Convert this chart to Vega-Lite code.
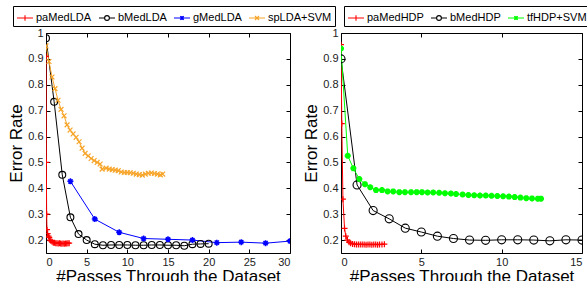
{
  "$schema": "https://vega.github.io/schema/vega-lite/v6.json",
  "padding": {"left": 7, "top": 5, "right": 0, "bottom": 0},
  "spacing": 51,
  "bounds": "flush",
  "resolve": {"scale": {"color": "independent"}, "legend": {"color": "independent"}},
  "config": {
    "font": "Liberation Sans",
    "view": {"stroke": null},
    "axis": {"grid": false, "domainColor": "black", "tickColor": "black", "labelColor": "#222", "labelFontSize": 11, "labelFont": "Liberation Sans", "titleFont": "Liberation Sans", "titleFontSize": 17, "titleFontWeight": "normal", "titleColor": "black", "tickSize": -4, "labelPadding": 7},
    "legend": {"labelFont": "Liberation Sans", "labelFontSize": 11, "labelColor": "black", "symbolSize": 256, "strokeColor": "black", "fillColor": "white", "padding": 3, "columnPadding": 4, "labelOffset": 2, "symbolStrokeWidth": 1.1, "symbolOpacity": 1, "gridAlign": "none"}
  },
  "datasets": {
    "lda": [
      {"s": "paMedLDA", "x": 0, "y": 0.91}, {"s": "paMedLDA", "x": 0.04, "y": 0.5}, {"s": "paMedLDA", "x": 0.08, "y": 0.3}, {"s": "paMedLDA", "x": 0.12, "y": 0.24}, {"s": "paMedLDA", "x": 0.2, "y": 0.225}, {"s": "paMedLDA", "x": 0.3, "y": 0.215}, {"s": "paMedLDA", "x": 0.4, "y": 0.21}, {"s": "paMedLDA", "x": 0.5, "y": 0.2}, {"s": "paMedLDA", "x": 0.6, "y": 0.197}, {"s": "paMedLDA", "x": 0.75, "y": 0.193}, {"s": "paMedLDA", "x": 0.9, "y": 0.19}, {"s": "paMedLDA", "x": 1.05, "y": 0.19}, {"s": "paMedLDA", "x": 1.2, "y": 0.188}, {"s": "paMedLDA", "x": 1.35, "y": 0.188}, {"s": "paMedLDA", "x": 1.5, "y": 0.187}, {"s": "paMedLDA", "x": 1.65, "y": 0.188}, {"s": "paMedLDA", "x": 1.8, "y": 0.187}, {"s": "paMedLDA", "x": 1.95, "y": 0.186}, {"s": "paMedLDA", "x": 2.1, "y": 0.187}, {"s": "paMedLDA", "x": 2.25, "y": 0.186}, {"s": "paMedLDA", "x": 2.4, "y": 0.187}, {"s": "paMedLDA", "x": 2.55, "y": 0.187}, {"s": "paMedLDA", "x": 2.7, "y": 0.188}, {"s": "paMedLDA", "x": 2.85, "y": 0.188},
      {"s": "bMedLDA", "x": 0, "y": 0.98}, {"s": "bMedLDA", "x": 1, "y": 0.734}, {"s": "bMedLDA", "x": 2, "y": 0.452}, {"s": "bMedLDA", "x": 3, "y": 0.288}, {"s": "bMedLDA", "x": 4, "y": 0.223}, {"s": "bMedLDA", "x": 5, "y": 0.2}, {"s": "bMedLDA", "x": 6, "y": 0.184}, {"s": "bMedLDA", "x": 7, "y": 0.18}, {"s": "bMedLDA", "x": 8, "y": 0.181}, {"s": "bMedLDA", "x": 9, "y": 0.181}, {"s": "bMedLDA", "x": 10, "y": 0.181}, {"s": "bMedLDA", "x": 11, "y": 0.18}, {"s": "bMedLDA", "x": 12, "y": 0.18}, {"s": "bMedLDA", "x": 13, "y": 0.181}, {"s": "bMedLDA", "x": 14, "y": 0.181}, {"s": "bMedLDA", "x": 15, "y": 0.18}, {"s": "bMedLDA", "x": 16, "y": 0.18}, {"s": "bMedLDA", "x": 17, "y": 0.178}, {"s": "bMedLDA", "x": 18, "y": 0.184}, {"s": "bMedLDA", "x": 19, "y": 0.185}, {"s": "bMedLDA", "x": 20, "y": 0.186},
      {"s": "gMedLDA", "x": 3, "y": 0.427}, {"s": "gMedLDA", "x": 6, "y": 0.281}, {"s": "gMedLDA", "x": 9, "y": 0.23}, {"s": "gMedLDA", "x": 12, "y": 0.206}, {"s": "gMedLDA", "x": 15, "y": 0.203}, {"s": "gMedLDA", "x": 18, "y": 0.2}, {"s": "gMedLDA", "x": 21, "y": 0.19}, {"s": "gMedLDA", "x": 24, "y": 0.192}, {"s": "gMedLDA", "x": 27, "y": 0.188}, {"s": "gMedLDA", "x": 30, "y": 0.196},
      {"s": "spLDA+SVM", "x": 0, "y": 0.95}, {"s": "spLDA+SVM", "x": 0.37, "y": 0.89}, {"s": "spLDA+SVM", "x": 0.74, "y": 0.83}, {"s": "spLDA+SVM", "x": 1.11, "y": 0.785}, {"s": "spLDA+SVM", "x": 1.48, "y": 0.74}, {"s": "spLDA+SVM", "x": 1.85, "y": 0.705}, {"s": "spLDA+SVM", "x": 2.22, "y": 0.68}, {"s": "spLDA+SVM", "x": 2.59, "y": 0.645}, {"s": "spLDA+SVM", "x": 2.96, "y": 0.625}, {"s": "spLDA+SVM", "x": 3.33, "y": 0.61}, {"s": "spLDA+SVM", "x": 3.7, "y": 0.597}, {"s": "spLDA+SVM", "x": 4.07, "y": 0.58}, {"s": "spLDA+SVM", "x": 4.44, "y": 0.555}, {"s": "spLDA+SVM", "x": 4.81, "y": 0.535}, {"s": "spLDA+SVM", "x": 5.18, "y": 0.525}, {"s": "spLDA+SVM", "x": 5.55, "y": 0.515}, {"s": "spLDA+SVM", "x": 5.92, "y": 0.507}, {"s": "spLDA+SVM", "x": 6.29, "y": 0.5}, {"s": "spLDA+SVM", "x": 6.66, "y": 0.494}, {"s": "spLDA+SVM", "x": 6.9, "y": 0.474}, {"s": "spLDA+SVM", "x": 7.4, "y": 0.478}, {"s": "spLDA+SVM", "x": 7.77, "y": 0.474}, {"s": "spLDA+SVM", "x": 8.14, "y": 0.472}, {"s": "spLDA+SVM", "x": 8.51, "y": 0.47}, {"s": "spLDA+SVM", "x": 8.88, "y": 0.468}, {"s": "spLDA+SVM", "x": 9.25, "y": 0.463}, {"s": "spLDA+SVM", "x": 9.62, "y": 0.461}, {"s": "spLDA+SVM", "x": 9.99, "y": 0.461}, {"s": "spLDA+SVM", "x": 10.36, "y": 0.46}, {"s": "spLDA+SVM", "x": 10.73, "y": 0.458}, {"s": "spLDA+SVM", "x": 11.1, "y": 0.455}, {"s": "spLDA+SVM", "x": 11.47, "y": 0.453}, {"s": "spLDA+SVM", "x": 11.84, "y": 0.451}, {"s": "spLDA+SVM", "x": 12.21, "y": 0.455}, {"s": "spLDA+SVM", "x": 12.58, "y": 0.458}, {"s": "spLDA+SVM", "x": 12.95, "y": 0.459}, {"s": "spLDA+SVM", "x": 13.32, "y": 0.457}, {"s": "spLDA+SVM", "x": 13.69, "y": 0.455}, {"s": "spLDA+SVM", "x": 14.06, "y": 0.452}, {"s": "spLDA+SVM", "x": 14.35, "y": 0.455}
    ],
    "hdp": [
      {"s": "paMedHDP", "x": 0, "y": 0.955}, {"s": "paMedHDP", "x": 0.05, "y": 0.65}, {"s": "paMedHDP", "x": 0.12, "y": 0.358}, {"s": "paMedHDP", "x": 0.22, "y": 0.245}, {"s": "paMedHDP", "x": 0.3, "y": 0.215}, {"s": "paMedHDP", "x": 0.4, "y": 0.2}, {"s": "paMedHDP", "x": 0.5, "y": 0.192}, {"s": "paMedHDP", "x": 0.6, "y": 0.188}, {"s": "paMedHDP", "x": 0.72, "y": 0.185}, {"s": "paMedHDP", "x": 0.84, "y": 0.184}, {"s": "paMedHDP", "x": 0.96, "y": 0.183}, {"s": "paMedHDP", "x": 1.08, "y": 0.183}, {"s": "paMedHDP", "x": 1.2, "y": 0.183}, {"s": "paMedHDP", "x": 1.32, "y": 0.183}, {"s": "paMedHDP", "x": 1.44, "y": 0.183}, {"s": "paMedHDP", "x": 1.56, "y": 0.182}, {"s": "paMedHDP", "x": 1.68, "y": 0.183}, {"s": "paMedHDP", "x": 1.8, "y": 0.183}, {"s": "paMedHDP", "x": 1.92, "y": 0.182}, {"s": "paMedHDP", "x": 2.04, "y": 0.183}, {"s": "paMedHDP", "x": 2.16, "y": 0.183}, {"s": "paMedHDP", "x": 2.28, "y": 0.182}, {"s": "paMedHDP", "x": 2.4, "y": 0.183}, {"s": "paMedHDP", "x": 2.55, "y": 0.183}, {"s": "paMedHDP", "x": 2.7, "y": 0.184},
      {"s": "bMedHDP", "x": 0, "y": 0.9}, {"s": "bMedHDP", "x": 1, "y": 0.413}, {"s": "bMedHDP", "x": 2, "y": 0.314}, {"s": "bMedHDP", "x": 3, "y": 0.282}, {"s": "bMedHDP", "x": 4, "y": 0.246}, {"s": "bMedHDP", "x": 5, "y": 0.231}, {"s": "bMedHDP", "x": 6, "y": 0.215}, {"s": "bMedHDP", "x": 7, "y": 0.206}, {"s": "bMedHDP", "x": 8, "y": 0.2}, {"s": "bMedHDP", "x": 9, "y": 0.199}, {"s": "bMedHDP", "x": 10, "y": 0.201}, {"s": "bMedHDP", "x": 11, "y": 0.201}, {"s": "bMedHDP", "x": 12, "y": 0.2}, {"s": "bMedHDP", "x": 13, "y": 0.197}, {"s": "bMedHDP", "x": 14, "y": 0.201}, {"s": "bMedHDP", "x": 15, "y": 0.2},
      {"s": "tfHDP+SVM", "x": 0, "y": 0.94}, {"s": "tfHDP+SVM", "x": 0.42, "y": 0.526}, {"s": "tfHDP+SVM", "x": 0.77, "y": 0.477}, {"s": "tfHDP+SVM", "x": 1.14, "y": 0.436}, {"s": "tfHDP+SVM", "x": 1.49, "y": 0.416}, {"s": "tfHDP+SVM", "x": 1.82, "y": 0.404}, {"s": "tfHDP+SVM", "x": 2.18, "y": 0.393}, {"s": "tfHDP+SVM", "x": 2.55, "y": 0.393}, {"s": "tfHDP+SVM", "x": 2.9, "y": 0.388}, {"s": "tfHDP+SVM", "x": 3.25, "y": 0.388}, {"s": "tfHDP+SVM", "x": 3.63, "y": 0.385}, {"s": "tfHDP+SVM", "x": 3.98, "y": 0.385}, {"s": "tfHDP+SVM", "x": 4.36, "y": 0.385}, {"s": "tfHDP+SVM", "x": 4.71, "y": 0.385}, {"s": "tfHDP+SVM", "x": 5.04, "y": 0.385}, {"s": "tfHDP+SVM", "x": 5.39, "y": 0.384}, {"s": "tfHDP+SVM", "x": 5.74, "y": 0.384}, {"s": "tfHDP+SVM", "x": 6.11, "y": 0.383}, {"s": "tfHDP+SVM", "x": 6.47, "y": 0.381}, {"s": "tfHDP+SVM", "x": 6.84, "y": 0.38}, {"s": "tfHDP+SVM", "x": 7.16, "y": 0.378}, {"s": "tfHDP+SVM", "x": 7.57, "y": 0.376}, {"s": "tfHDP+SVM", "x": 7.93, "y": 0.374}, {"s": "tfHDP+SVM", "x": 8.29, "y": 0.373}, {"s": "tfHDP+SVM", "x": 8.65, "y": 0.372}, {"s": "tfHDP+SVM", "x": 9.01, "y": 0.372}, {"s": "tfHDP+SVM", "x": 9.37, "y": 0.371}, {"s": "tfHDP+SVM", "x": 9.73, "y": 0.37}, {"s": "tfHDP+SVM", "x": 10.09, "y": 0.369}, {"s": "tfHDP+SVM", "x": 10.45, "y": 0.368}, {"s": "tfHDP+SVM", "x": 10.81, "y": 0.366}, {"s": "tfHDP+SVM", "x": 11.17, "y": 0.364}, {"s": "tfHDP+SVM", "x": 11.53, "y": 0.362}, {"s": "tfHDP+SVM", "x": 11.89, "y": 0.361}, {"s": "tfHDP+SVM", "x": 12.25, "y": 0.36}, {"s": "tfHDP+SVM", "x": 12.45, "y": 0.36}
    ]
  },
  "hconcat": [
    {
      "width": 244, "height": 220,
      "data": {"name": "lda"},
      "encoding": {
        "x": {"field": "x", "type": "quantitative", "scale": {"domain": [0, 30], "nice": false}, "axis": null},
        "y": {"field": "y", "type": "quantitative", "scale": {"domain": [0.15, 1], "nice": false, "zero": false}, "axis": null}
      },
      "layer": [
        {
          "mark": {"type": "line", "strokeWidth": 1, "clip": true},
          "encoding": {
            "x": {"field": "x", "type": "quantitative", "scale": {"domain": [0, 30], "nice": false}, "axis": {"orient": "bottom", "values": [0, 5, 10, 15, 20, 25, 30], "title": "#Passes Through the Dataset", "titlePadding": 1}},
            "y": {"field": "y", "type": "quantitative", "scale": {"domain": [0.15, 1], "nice": false, "zero": false}, "axis": {"orient": "left", "values": [0.2, 0.3, 0.4, 0.5, 0.6, 0.7, 0.8, 0.9, 1], "format": "~g", "title": "Error Rate", "titlePadding": 2}},
            "color": {"field": "s", "type": "nominal", "sort": null, "scale": {"domain": ["paMedLDA", "bMedLDA", "gMedLDA", "spLDA+SVM"], "range": ["#ff0000", "#000000", "#0000ff", "#f7a52a"]},
              "legend": {"title": null, "orient": "none", "legendX": -33, "legendY": -27, "direction": "horizontal",
                "encode": {"symbols": {"update": {"shape": {"signal": "datum.value === 'paMedLDA' ? 'M-1,0H1M0,-0.35V0.35' : datum.value === 'bMedLDA' ? 'M-1,0H-0.3M0.3,0H1M0.3,0A0.3,0.3,0,1,1,-0.3,0A0.3,0.3,0,1,1,0.3,0' : datum.value === 'gMedLDA' ? 'M-1,0H1M0,-0.25V0.25M-0.22,-0.22L0.22,0.22M-0.22,0.22L0.22,-0.22' : 'M-1,0H1M-0.25,-0.25L0.25,0.25M-0.25,0.25L0.25,-0.25'"}, "fill": {"value": "transparent"}}}}}}
          }
        },
        {
          "transform": [{"filter": "datum.s === 'paMedLDA'"}],
          "mark": {"type": "point", "filled": false, "strokeWidth": 1.2, "opacity": 1, "size": 36, "clip": true, "color": "#ff0000", "shape": "M-1,0H1M0,-1V1"},
          "encoding": {
            "x": {"field": "x", "type": "quantitative", "scale": {"domain": [0, 30], "nice": false}, "axis": {"orient": "top", "labels": false, "title": null, "values": [0, 5, 10, 15, 20, 25, 30]}},
            "y": {"field": "y", "type": "quantitative", "scale": {"domain": [0.15, 1], "nice": false, "zero": false}, "axis": {"orient": "right", "labels": false, "title": null, "values": [0.2, 0.3, 0.4, 0.5, 0.6, 0.7, 0.8, 0.9, 1]}}
          }
        },
        {
          "transform": [{"filter": "datum.s === 'bMedLDA'"}],
          "mark": {"type": "point", "filled": false, "strokeWidth": 1.1, "opacity": 1, "size": 36, "clip": true, "color": "#000000", "shape": "M1.15,0A1.15,1.15,0,1,1,-1.15,0A1.15,1.15,0,1,1,1.15,0"}
        },
        {
          "transform": [{"filter": "datum.s === 'gMedLDA'"}],
          "mark": {"type": "point", "filled": false, "strokeWidth": 1.5, "opacity": 1, "size": 36, "clip": true, "color": "#0000ff", "shape": "M-1,0H1M0,-1V1M-0.7,-0.7L0.7,0.7M-0.7,0.7L0.7,-0.7"}
        },
        {
          "transform": [{"filter": "datum.s === 'spLDA+SVM'"}],
          "mark": {"type": "point", "filled": false, "strokeWidth": 1.2, "opacity": 1, "size": 36, "clip": true, "color": "#f7a52a", "shape": "M-0.8,-0.8L0.8,0.8M-0.8,0.8L0.8,-0.8"}
        }
      ]
    },
    {
      "width": 241, "height": 220,
      "data": {"name": "hdp"},
      "encoding": {
        "x": {"field": "x", "type": "quantitative", "scale": {"domain": [0, 15], "nice": false}, "axis": null},
        "y": {"field": "y", "type": "quantitative", "scale": {"domain": [0.15, 1], "nice": false, "zero": false}, "axis": null}
      },
      "layer": [
        {
          "mark": {"type": "line", "strokeWidth": 1, "clip": true},
          "encoding": {
            "x": {"field": "x", "type": "quantitative", "scale": {"domain": [0, 15], "nice": false}, "axis": {"orient": "bottom", "values": [0, 5, 10, 15], "title": "#Passes Through the Dataset", "titlePadding": 1}},
            "y": {"field": "y", "type": "quantitative", "scale": {"domain": [0.15, 1], "nice": false, "zero": false}, "axis": {"orient": "left", "values": [0.2, 0.3, 0.4, 0.5, 0.6, 0.7, 0.8, 0.9, 1], "format": "~g", "title": "Error Rate", "titlePadding": 2}},
            "color": {"field": "s", "type": "nominal", "sort": null, "scale": {"domain": ["paMedHDP", "bMedHDP", "tfHDP+SVM"], "range": ["#ff0000", "#000000", "#00ff00"]},
              "legend": {"title": null, "orient": "none", "legendX": 3, "legendY": -27, "direction": "horizontal",
                "encode": {"symbols": {"update": {"shape": {"signal": "datum.value === 'paMedHDP' ? 'M-1,0H1M0,-0.35V0.35' : datum.value === 'bMedHDP' ? 'M-1,0H-0.3M0.3,0H1M0.3,0A0.3,0.3,0,1,1,-0.3,0A0.3,0.3,0,1,1,0.3,0' : 'M-1,0H1M0,-0.25V0.25M-0.22,-0.22L0.22,0.22M-0.22,0.22L0.22,-0.22'"}, "fill": {"value": "transparent"}}}}}}
          }
        },
        {
          "transform": [{"filter": "datum.s === 'paMedHDP'"}],
          "mark": {"type": "point", "filled": false, "strokeWidth": 1.2, "opacity": 1, "size": 36, "clip": true, "color": "#ff0000", "shape": "M-1,0H1M0,-1V1"},
          "encoding": {
            "x": {"field": "x", "type": "quantitative", "scale": {"domain": [0, 15], "nice": false}, "axis": {"orient": "top", "labels": false, "title": null, "values": [0, 5, 10, 15]}},
            "y": {"field": "y", "type": "quantitative", "scale": {"domain": [0.15, 1], "nice": false, "zero": false}, "axis": {"orient": "right", "labels": false, "title": null, "values": [0.2, 0.3, 0.4, 0.5, 0.6, 0.7, 0.8, 0.9, 1]}}
          }
        },
        {
          "transform": [{"filter": "datum.s === 'bMedHDP'"}],
          "mark": {"type": "point", "filled": false, "strokeWidth": 1.1, "opacity": 1, "size": 49, "clip": true, "color": "#000000", "shape": "M1.15,0A1.15,1.15,0,1,1,-1.15,0A1.15,1.15,0,1,1,1.15,0"}
        },
        {
          "transform": [{"filter": "datum.s === 'tfHDP+SVM'"}],
          "mark": {"type": "point", "filled": false, "strokeWidth": 2, "opacity": 1, "size": 36, "clip": true, "color": "#00ff00", "shape": "M-1,0H1M0,-1V1M-0.7,-0.7L0.7,0.7M-0.7,0.7L0.7,-0.7"}
        }
      ]
    }
  ]
}
